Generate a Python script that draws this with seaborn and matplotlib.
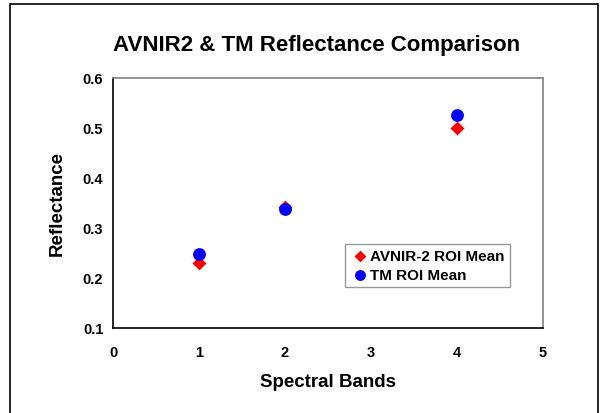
import seaborn as sns
import matplotlib.pyplot as plt
import pandas as pd
from matplotlib.patches import Rectangle

# Band numbers and mean reflectance
bands = [1, 2, 4]
avnir_mean = [0.231, 0.343, 0.500]
tm_mean = [0.248, 0.339, 0.527]
series_names = ['AVNIR-2 ROI Mean', 'TM ROI Mean']

avnir = pd.DataFrame({'band': bands, 'reflectance': avnir_mean})
tm = pd.DataFrame({'band': bands, 'reflectance': tm_mean})

sns.set_theme(style='white')
plt.rcParams['font.family'] = ['Liberation Sans', 'DejaVu Sans']
plt.rcParams['font.weight'] = 'bold'
plt.rcParams['text.color'] = 'black'
plt.rcParams['axes.labelcolor'] = 'black'

fig = plt.figure(figsize=(6, 4.14), dpi=100)
ax = fig.add_axes([113 / 600, 1 - 329 / 414, 430 / 600, 250 / 414])

# one call per series so each keeps its own marker size
sns.scatterplot(data=avnir, x='band', y='reflectance', marker='D', color='#ff0000',
                s=50, linewidth=0, label=series_names[0], ax=ax)
sns.scatterplot(data=tm, x='band', y='reflectance', marker='o', color='#0000ff',
                s=85, linewidth=0, label=series_names[1], ax=ax)

ax.set_xlim(0, 5)
ax.set_ylim(0.1, 0.6)
ax.set_xticks(range(0, 6))
ax.set_yticks([0.1, 0.2, 0.3, 0.4, 0.5, 0.6])
ax.set_yticklabels(['0.1', '0.2', '0.3', '0.4', '0.5', '0.6'])
ax.tick_params(axis='both', direction='out', length=4, width=1, colors='black',
               labelsize=10.5, pad=8)
ax.tick_params(axis='y', pad=3)
for lbl in ax.get_xticklabels() + ax.get_yticklabels():
    lbl.set_fontweight('bold')

for side in ['left', 'bottom']:
    ax.spines[side].set_color('black')
    ax.spines[side].set_linewidth(1.2)
for side in ['top', 'right']:
    ax.spines[side].set_color('#808080')
    ax.spines[side].set_linewidth(1.2)

ax.set_xlabel('Spectral Bands', fontsize=13.5, fontweight='bold', labelpad=10)
ax.set_ylabel('Reflectance', fontsize=13.5, fontweight='bold', labelpad=12)
fig.text(0.527, 1 - 45 / 414, 'AVNIR2 & TM Reflectance Comparison', ha='center',
         va='center', fontsize=16, fontweight='bold')

leg = ax.legend(loc='upper left', bbox_to_anchor=(0.54, 0.336), frameon=True,
                fancybox=False, edgecolor='#808080', fontsize=11,
                handletextpad=0.0, borderpad=0.35, labelspacing=0.3,
                handlelength=1.3, borderaxespad=0, markerscale=0.85)
leg.get_frame().set_linewidth(1)
for t in leg.get_texts():
    t.set_fontweight('bold')

# outer chart frame
fig.patches.append(Rectangle((10 / 600, -0.01), 588 / 600, 1 - 5 / 414 + 0.01,
                             transform=fig.transFigure, fill=False,
                             edgecolor='black', linewidth=1.2))

fig.savefig('out.png', dpi=100)
